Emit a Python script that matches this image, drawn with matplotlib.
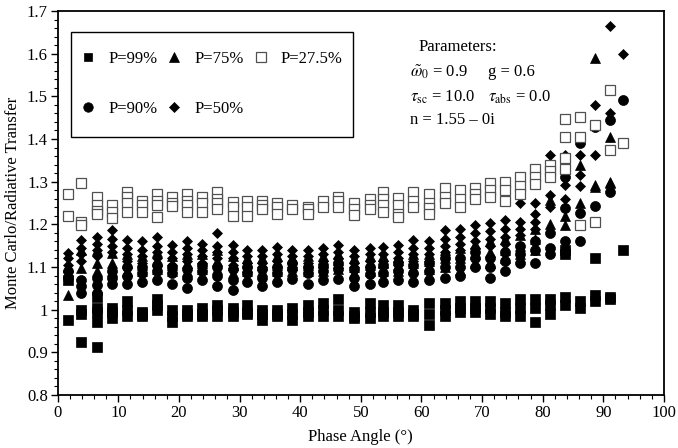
import matplotlib
matplotlib.use("Agg")
import matplotlib.pyplot as plt
from matplotlib.ticker import MultipleLocator, FuncFormatter
from matplotlib.patches import Rectangle

plt.rcParams['font.family'] = ['Liberation Serif', 'DejaVu Serif']
plt.rcParams['mathtext.fontset'] = 'stix'

# Phase-angle columns (degrees)
angles = [1.7, 3.9, 6.4, 8.9, 11.4, 13.9, 16.3, 18.8, 21.3, 23.8, 26.2, 28.9, 31.3,
          33.7, 36.1, 38.7, 41.3, 43.8, 46.3, 48.9, 51.5, 53.7, 56.2, 58.6, 61.2,
          63.9, 66.4, 68.9, 71.3, 73.8, 76.3, 78.7, 81.2, 83.7, 86.2, 88.7, 91.1, 93.3]

# Ratio values per column for each polarization level
p99 = [[1.07, 0.975], [1.0, 0.99, 0.925], [1.03, 1.005, 0.995, 0.97, 0.913],
       [1.005, 0.995, 0.98], [1.02, 1.0, 0.985], [0.995, 0.99, 0.985],
       [1.025, 1.01, 1.0], [1.0, 0.985, 0.97], [1.0, 0.99, 0.985],
       [1.005, 0.99, 0.985], [1.01, 1.0, 0.985], [1.005, 0.995, 0.985],
       [1.01, 0.995, 0.99], [1.0, 0.99, 0.975], [1.0, 0.99, 0.985],
       [1.005, 0.99, 0.975], [1.01, 0.995, 0.985], [1.015, 1.0, 0.985],
       [1.025, 1.0, 0.985], [0.995, 0.985, 0.98], [1.015, 0.995, 0.98],
       [1.01, 0.995, 0.985], [1.01, 0.995, 0.985], [1.0, 0.99, 0.985],
       [1.015, 0.99, 0.965], [1.015, 1.0, 0.985], [1.02, 1.005, 0.995],
       [1.02, 1.005, 0.995], [1.02, 1.005, 0.99], [1.015, 0.995, 0.985],
       [1.025, 1.005, 0.985], [1.025, 1.005, 0.97], [1.025, 1.01, 0.99],
       [1.14, 1.13, 1.03, 1.01], [1.02, 1.005], [1.12, 1.035, 1.02],
       [1.03, 1.025], [1.14]]

p90 = [[1.09, 1.075], [1.07, 1.055, 1.04], [1.075, 1.058, 1.04],
       [1.09, 1.075, 1.06], [1.1, 1.08, 1.06], [1.1, 1.085, 1.065],
       [1.105, 1.09, 1.07], [1.1, 1.085, 1.06], [1.095, 1.075, 1.05],
       [1.105, 1.09, 1.07], [1.1, 1.08, 1.055], [1.095, 1.07, 1.047],
       [1.1, 1.085, 1.065], [1.095, 1.075, 1.055], [1.1, 1.085, 1.065],
       [1.11, 1.095, 1.073], [1.1, 1.085, 1.06], [1.105, 1.09, 1.07],
       [1.11, 1.095, 1.073], [1.095, 1.075, 1.055], [1.1, 1.083, 1.06],
       [1.105, 1.087, 1.065], [1.11, 1.09, 1.07], [1.105, 1.087, 1.065],
       [1.11, 1.09, 1.07], [1.12, 1.1, 1.075], [1.12, 1.1, 1.08],
       [1.135, 1.12, 1.1], [1.12, 1.1, 1.075], [1.135, 1.115, 1.09],
       [1.15, 1.13, 1.11], [1.16, 1.14, 1.11], [1.18, 1.144, 1.13],
       [1.339, 1.31, 1.238, 1.16], [1.39, 1.227, 1.16], [1.429, 1.243],
       [1.444, 1.276], [1.491]]

p75 = [[1.1, 1.035], [1.14, 1.097], [1.14, 1.11, 1.09], [1.133, 1.11, 1.09],
       [1.13, 1.11, 1.09], [1.125, 1.105, 1.09], [1.135, 1.115, 1.095],
       [1.125, 1.105, 1.09], [1.13, 1.11, 1.09], [1.13, 1.11, 1.095],
       [1.14, 1.115, 1.095], [1.125, 1.105, 1.085], [1.12, 1.1, 1.09],
       [1.12, 1.105, 1.09], [1.125, 1.105, 1.09], [1.12, 1.105, 1.09],
       [1.125, 1.105, 1.09], [1.125, 1.11, 1.09], [1.13, 1.11, 1.095],
       [1.12, 1.1, 1.085], [1.125, 1.105, 1.09], [1.125, 1.11, 1.09],
       [1.124, 1.105, 1.09], [1.13, 1.11, 1.095], [1.13, 1.115, 1.095],
       [1.14, 1.12, 1.1], [1.145, 1.12, 1.093], [1.155, 1.13, 1.11],
       [1.16, 1.135, 1.11], [1.165, 1.14, 1.12], [1.175, 1.15, 1.13],
       [1.19, 1.165, 1.14], [1.343, 1.257, 1.2], [1.405, 1.22, 1.198],
       [1.405, 1.339, 1.25], [1.589, 1.292, 1.288], [1.405, 1.3, 1.296], []]

p50 = [[1.133, 1.12, 1.105, 1.09], [1.163, 1.145, 1.13, 1.115], [1.171, 1.155, 1.14, 1.125],
       [1.187, 1.165, 1.15, 1.135], [1.163, 1.145, 1.13, 1.115], [1.16, 1.14, 1.125, 1.11],
       [1.17, 1.15, 1.135, 1.12], [1.152, 1.135, 1.12, 1.105], [1.16, 1.145, 1.13, 1.115],
       [1.155, 1.14, 1.125, 1.11], [1.179, 1.15, 1.135, 1.12], [1.152, 1.135, 1.12, 1.105],
       [1.14, 1.125, 1.11, 1.1], [1.14, 1.125, 1.11, 1.1], [1.148, 1.13, 1.115, 1.1],
       [1.14, 1.125, 1.11, 1.1], [1.14, 1.125, 1.11, 1.1], [1.144, 1.13, 1.115, 1.1],
       [1.152, 1.135, 1.12, 1.105], [1.14, 1.125, 1.11, 1.1], [1.144, 1.13, 1.115, 1.1],
       [1.148, 1.13, 1.115, 1.1], [1.152, 1.135, 1.12, 1.105], [1.163, 1.145, 1.13, 1.115],
       [1.16, 1.145, 1.13, 1.115], [1.187, 1.165, 1.15, 1.135], [1.19, 1.17, 1.155, 1.14],
       [1.198, 1.18, 1.16, 1.145], [1.202, 1.185, 1.165, 1.15], [1.21, 1.19, 1.17, 1.155],
       [1.249, 1.206, 1.19, 1.175], [1.249, 1.225, 1.205, 1.19], [1.363, 1.269, 1.24],
       [1.363, 1.292, 1.26], [1.363, 1.316, 1.29], [1.48, 1.363],
       [1.665, 1.46], [1.6]]

p275 = [[1.27, 1.22], [1.297, 1.205, 1.198], [1.265, 1.245, 1.232, 1.225],
        [1.245, 1.23, 1.215], [1.275, 1.265, 1.25, 1.23], [1.255, 1.245, 1.23],
        [1.272, 1.255, 1.245, 1.218], [1.265, 1.25, 1.243],
        [1.27, 1.255, 1.245, 1.228], [1.265, 1.25, 1.23],
        [1.276, 1.26, 1.25, 1.237], [1.253, 1.24, 1.22], [1.255, 1.24, 1.22],
        [1.255, 1.245, 1.235], [1.25, 1.24, 1.225], [1.245, 1.235],
        [1.24, 1.235, 1.225], [1.255, 1.24], [1.265, 1.255, 1.24],
        [1.25, 1.235, 1.222], [1.26, 1.245, 1.235], [1.276, 1.26, 1.245, 1.23],
        [1.262, 1.245, 1.225, 1.217], [1.276, 1.255, 1.24],
        [1.27, 1.25, 1.238, 1.225], [1.285, 1.265, 1.25], [1.28, 1.26, 1.24],
        [1.285, 1.27, 1.26], [1.297, 1.28, 1.265], [1.3, 1.28, 1.255],
        [1.31, 1.29, 1.27], [1.33, 1.31, 1.295], [1.34, 1.325, 1.31],
        [1.448, 1.405, 1.355, 1.33], [1.452, 1.405, 1.198], [1.433, 1.206],
        [1.516, 1.374], [1.39]]

labels = ['P=99%', 'P=90%', 'P=75%', 'P=50%', 'P=27.5%']


def flatten(cols):
    xs, ys = [], []
    for a, vals in zip(angles, cols):
        for v in vals:
            xs.append(a)
            ys.append(v)
    return xs, ys


W, H = 678, 448
fig = plt.figure(figsize=(W / 100, H / 100), dpi=100)
L, R, T, B = 57.7, 664, 11, 395
ax = fig.add_axes([L / W, 1 - B / H, (R - L) / W, (B - T) / H])

styles = [
    (p99, dict(marker='s', ms=6.8, mfc='black', mec='black', mew=0.5)),
    (p90, dict(marker='o', ms=7.2, mfc='black', mec='black', mew=0.5)),
    (p75, dict(marker='^', ms=7.2, mfc='black', mec='black', mew=0.5)),
    (p50, dict(marker='D', ms=5.4, mfc='black', mec='black', mew=0.5)),
    (p275, dict(marker='s', ms=7.0, mfc='white', mec='#505050', mew=0.9)),
]
handles = []
for (data, st), lab in zip(styles, labels):
    xs, ys = flatten(data)
    h, = ax.plot(xs, ys, linestyle='none', label=lab, **st)
    handles.append(h)

ax.set_xlim(0, 100)
ax.set_ylim(0.8, 1.7)
ax.xaxis.set_major_locator(MultipleLocator(10))
ax.xaxis.set_minor_locator(MultipleLocator(2))
ax.yaxis.set_major_locator(MultipleLocator(0.1))
ax.yaxis.set_minor_locator(MultipleLocator(0.02))
ax.yaxis.set_major_formatter(FuncFormatter(lambda v, p: '1' if abs(v - 1) < 1e-9 else f"{v:.1f}"))
ax.tick_params(which='major', direction='out', length=5, width=1, labelsize=12, pad=2)
ax.tick_params(which='minor', direction='out', length=3, width=0.8)
for s in ax.spines.values():
    s.set_linewidth(1.3)

ax.set_xlabel('Phase Angle (°)', fontsize=12, labelpad=6)
ax.set_ylabel('Monte Carlo/Radiative Transfer', fontsize=12, labelpad=4)


def ax_xy(px, py):
    return (px - L) / (R - L), (B - py) / (B - T)


# legend: frame drawn separately so the inner padding can match
x0, y0 = ax_xy(71, 137)
x1, y1 = ax_xy(353, 32)
ax.add_patch(Rectangle((x0, y0), x1 - x0, y1 - y0, transform=ax.transAxes,
                       fill=True, facecolor='white', edgecolor='black',
                       linewidth=1.0, zorder=4))
leg = ax.legend(handles=handles, labels=labels, ncol=3, loc='upper left',
                bbox_to_anchor=ax_xy(79.7, 51), borderaxespad=0, borderpad=0,
                frameon=False, fontsize=12, labelspacing=2.05, handlelength=1.0,
                handletextpad=0.72, columnspacing=0.5, markerscale=0.95)
leg.set_zorder(5)

txt = dict(fontsize=12, transform=ax.transAxes, va='center')
ax.text(*ax_xy(458, 47), 'Parameters:', ha='center', **txt)
ax.text(*ax_xy(410, 72), r'$\tilde{\omega}_0$ = 0.9', ha='left', **txt)
ax.text(*ax_xy(488, 72), 'g = 0.6', ha='left', **txt)
ax.text(*ax_xy(410, 97), r'$\tau_{\rm sc}$ = 10.0', ha='left', **txt)
ax.text(*ax_xy(488, 97), r'$\tau_{\rm abs}$ = 0.0', ha='left', **txt)
ax.text(*ax_xy(410, 120), 'n = 1.55 – 0i', ha='left', **txt)

fig.savefig('out.png', dpi=100)
